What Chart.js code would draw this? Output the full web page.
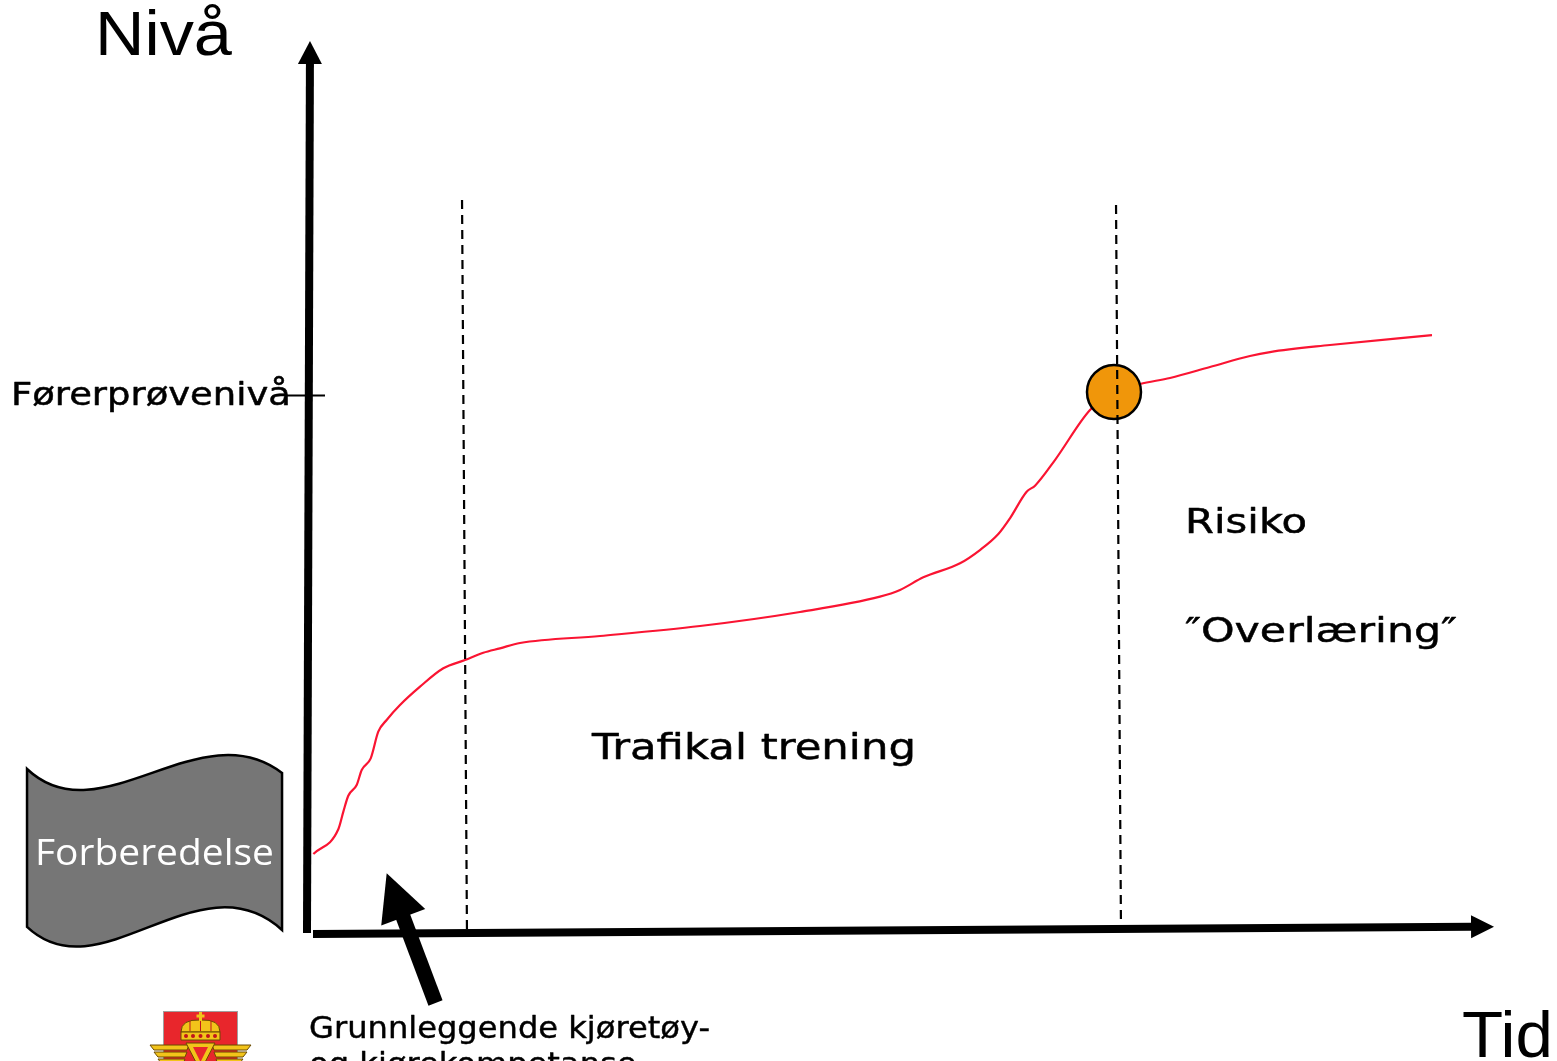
<!DOCTYPE html>
<html>
<head>
<meta charset="utf-8">
<script src="https://cdn.jsdelivr.net/npm/chart.js@4.4.0/dist/chart.umd.min.js"></script>
<style>
  html, body { margin: 0; padding: 0; background: #fff; overflow: hidden; }
  #wrap { position: relative; width: 1557px; height: 1061px; }
</style>
</head>
<body>
<div id="wrap"><canvas id="c"></canvas></div>
<script>
// ── Data (x = tid, y = nivå; arbitrary units, origin at the axes) ─────────
const curveX = [0.28, 2.36, 2.78, 3.19, 3.89, 4.31, 5.06, 5.69, 6.39, 7.5, 9.17, 11.11, 12.92, 14.44,
                15.83, 17.5, 24.17, 32.5, 40.83, 47.5, 49.17, 51.11, 54.17, 55.83, 57.36, 58.33, 59.72,
                60.42, 62.08, 65.0, 67.0, 69.17, 71.67, 75.0, 78.33, 80.0, 85.0, 93.5];
const curveY = [8.67, 11.41, 13.37, 15.14, 16.33, 18.0, 19.3, 22.26, 23.56, 25.22, 27.26, 29.3, 30.22, 31.03,
                31.52, 32.11, 32.89, 34.0, 35.56, 37.26, 38.0, 39.41, 40.97, 42.44, 44.22, 45.97, 48.92,
                49.59, 52.44, 58.0, 60.0, 60.89, 61.56, 62.78, 64.0, 64.44, 65.22, 66.33];

const milestoneX = [67.0];
const milestoneY = [60.0];

const phase1X = [12.67, 13.08];
const phase1Y = [81.33, 0.22];
const phase2X = [67.17, 67.58];
const phase2Y = [80.78, 0.78];

const yAxisX = [-0.25, 0.0];
const yAxisY = [-0.11, 99.0];
const xAxisX = [0.25, 98.67];
const xAxisY = [-0.22, 0.59];

const yTicks      = [59.6];
const yTickLabels = ['Førerprøvenivå'];

const pointerX = [10.46, 6.39];
const pointerY = [-7.89, 6.52];

// wavy "Forberedelse" banner: cubic edges (start, cp1, cp2, end)
const bannerTopX = [-23.58, -17.5, -9.17, -2.33];
const bannerTopY = [18.11, 10.44, 24.67, 17.67];
const bannerBotX = [-23.58, -17.5, -9.17, -2.33];
const bannerBotY = [0.56, -7.11, 8.56, 0.22];

// ── Styles ────────────────────────────────────────────────────────────────
const C = {
  curve:  '#fa1432',
  orange: '#f0960a',
  ink:    '#000000',
  banner: '#767676',
  logoRed:'#e8262c',
  logoYel:'#f2c41a',
  logoInk:'#6b4a00',
};
const VERDANA = "'DejaVu Sans', Verdana, sans-serif";
const ARIAL   = "'Liberation Sans', Arial, sans-serif";

const LABELS = [
  { text: 'Nivå',             x: -17.92, y: 97.44,  size: 63, family: ARIAL,   width: 137 },
  { text: 'Tid',              x: 96.0,   y: -13.89, size: 65, family: ARIAL,   width: 91 },
  { text: yTickLabels[0],     x: -24.92, y: 58.56,  size: 32, family: VERDANA, width: 280, bold: 0.5 },
  { text: 'Trafikal trening', x: 23.5,   y: 19.22,  size: 35, family: VERDANA, width: 324, bold: 0.5 },
  { text: 'Risiko',           x: 72.92,  y: 44.33,  size: 33, family: VERDANA, width: 122, bold: 0.5 },
  { text: '″Overlæring″',     x: 72.92,  y: 32.22,  size: 34, family: VERDANA, width: 272, bold: 0.5 },
  { text: 'Forberedelse',     x: -22.92, y: 7.44,   size: 37, family: "'Open Sans', sans-serif", width: 239, color: '#ffffff' },
  { lines: ['Grunnleggende kjøretøy-', 'og kjørekompetanse'], x: -0.08, y: -11.78, size: 30,
    family: VERDANA, width: 401, lineHeight: 36, bold: 0.4 },
];

// ── Helpers ───────────────────────────────────────────────────────────────
const pts = (xs, ys) => xs.map((x, i) => ({ x, y: ys[i] }));

function drawArrow(ctx, x0, y0, x1, y1, shaft, headLen, headW) {
  const dx = x1 - x0, dy = y1 - y0, L = Math.hypot(dx, dy);
  const ux = dx / L, uy = dy / L, nx = -uy, ny = ux;
  const bx = x1 - ux * headLen, by = y1 - uy * headLen;
  ctx.beginPath();
  ctx.moveTo(x0, y0);
  ctx.lineTo(bx + ux, by + uy);
  ctx.lineWidth = shaft;
  ctx.lineCap = 'butt';
  ctx.stroke();
  ctx.beginPath();
  ctx.moveTo(x1, y1);
  ctx.lineTo(bx + nx * headW / 2, by + ny * headW / 2);
  ctx.lineTo(bx - nx * headW / 2, by - ny * headW / 2);
  ctx.closePath();
  ctx.fill();
}

function drawLabel(ctx, X, Y, lbl) {
  const lines = lbl.lines || [lbl.text];
  ctx.save();
  ctx.font = `${lbl.size}px ${lbl.family}`;
  const sx = lbl.width ? lbl.width / ctx.measureText(lines[0]).width : 1;
  ctx.translate(X.getPixelForValue(lbl.x), Y.getPixelForValue(lbl.y));
  ctx.scale(sx, 1);
  ctx.fillStyle = lbl.color || C.ink;
  ctx.strokeStyle = lbl.color || C.ink;
  ctx.lineWidth = lbl.bold || 0;
  ctx.lineJoin = 'round';
  ctx.textBaseline = 'alphabetic';
  lines.forEach((t, i) => {
    const ty = i * (lbl.lineHeight || 0);
    ctx.fillText(t, 0, ty);
    if (lbl.bold) ctx.strokeText(t, 0, ty);
  });
  ctx.restore();
}

// Statens vegvesen badge, local pixel drawing anchored at a data point
function drawLogo(ctx, ox, oy) {
  ctx.save();
  ctx.translate(ox, oy);
  ctx.fillStyle = C.logoRed;
  ctx.fillRect(0, 0, 75, 60);
  ctx.strokeStyle = '#a0a0a0';
  ctx.lineWidth = 1;
  ctx.strokeRect(0.5, 0.5, 74, 60);
  // crown
  ctx.fillStyle = C.logoYel;
  ctx.strokeStyle = C.logoInk;
  ctx.lineWidth = 1;
  ctx.beginPath();
  ctx.moveTo(18, 21);
  ctx.quadraticCurveTo(18, 8, 37.5, 9);
  ctx.quadraticCurveTo(57, 8, 57, 21);
  ctx.closePath();
  ctx.fill(); ctx.stroke();
  ctx.beginPath();
  ctx.rect(18, 21, 39, 8);
  ctx.fill(); ctx.stroke();
  ctx.fillRect(36, 1, 3, 9);
  ctx.fillRect(33.5, 3.5, 8, 3);
  ctx.fillStyle = '#c0141c';
  [23, 30, 37.5, 45, 52].forEach(cx => { ctx.beginPath(); ctx.arc(cx, 25, 2, 0, Math.PI * 2); ctx.fill(); });
  ctx.strokeStyle = '#c0141c';
  [27, 37.5, 48].forEach(cx => { ctx.beginPath(); ctx.moveTo(cx, 10); ctx.lineTo(cx, 20); ctx.stroke(); });
  // wings
  ctx.fillStyle = C.logoYel;
  ctx.strokeStyle = C.logoInk;
  [[-13, 34], [-9, 41], [-5, 48]].forEach(([x0, y0], i) => {
    const w = 5;
    ctx.beginPath();
    ctx.moveTo(x0, y0); ctx.lineTo(26 - i * 2, y0); ctx.lineTo(24 - i * 2, y0 + w); ctx.lineTo(x0 + 4, y0 + w);
    ctx.closePath(); ctx.fill(); ctx.stroke();
    ctx.beginPath();
    ctx.moveTo(75 - x0, y0); ctx.lineTo(49 + i * 2, y0); ctx.lineTo(51 + i * 2, y0 + w); ctx.lineTo(71 - x0, y0 + w);
    ctx.closePath(); ctx.fill(); ctx.stroke();
  });
  ctx.beginPath();
  ctx.moveTo(23, 32); ctx.lineTo(52, 32); ctx.lineTo(37.5, 60); ctx.closePath();
  ctx.fill(); ctx.stroke();
  ctx.fillStyle = C.logoRed;
  ctx.beginPath();
  ctx.moveTo(30, 36); ctx.lineTo(45, 36); ctx.lineTo(37.5, 51); ctx.closePath();
  ctx.fill();
  ctx.restore();
}

// ── Plugin: banner, axes, arrows, labels ──────────────────────────────────
const diagramPlugin = {
  id: 'diagram',
  beforeDatasetsDraw(chart) {
    const { ctx, scales: { x: X, y: Y } } = chart;
    const P = (xs, ys, i) => [X.getPixelForValue(xs[i]), Y.getPixelForValue(ys[i])];
    ctx.save();
    ctx.beginPath();
    ctx.moveTo(...P(bannerTopX, bannerTopY, 0));
    ctx.bezierCurveTo(...P(bannerTopX, bannerTopY, 1), ...P(bannerTopX, bannerTopY, 2), ...P(bannerTopX, bannerTopY, 3));
    ctx.lineTo(...P(bannerBotX, bannerBotY, 3));
    ctx.bezierCurveTo(...P(bannerBotX, bannerBotY, 2), ...P(bannerBotX, bannerBotY, 1), ...P(bannerBotX, bannerBotY, 0));
    ctx.closePath();
    ctx.fillStyle = C.banner;
    ctx.fill();
    ctx.lineWidth = 2.5;
    ctx.strokeStyle = C.ink;
    ctx.stroke();
    drawLogo(ctx, X.getPixelForValue(-12.25), Y.getPixelForValue(-8.78));
    ctx.restore();
  },
  afterDatasetsDraw(chart) {
    const { ctx, scales: { x: X, y: Y } } = chart;
    ctx.save();
    ctx.strokeStyle = C.ink;
    ctx.fillStyle = C.ink;
    const px = v => X.getPixelForValue(v), py = v => Y.getPixelForValue(v);

    drawArrow(ctx, px(yAxisX[0]), py(yAxisY[0]), px(yAxisX[1]), py(yAxisY[1]), 8, 23, 24);
    drawArrow(ctx, px(xAxisX[0]), py(xAxisY[0]), px(xAxisX[1]), py(xAxisY[1]), 8, 23, 23);
    drawArrow(ctx, px(pointerX[0]), py(pointerY[0]), px(pointerX[1]), py(pointerY[1]), 15, 47, 47);

    // y tick at the test level
    yTicks.forEach(t => {
      ctx.beginPath();
      ctx.moveTo(px(-1.92), py(t));
      ctx.lineTo(px(1.25), py(t));
      ctx.lineWidth = 2;
      ctx.stroke();
    });

    LABELS.forEach(l => drawLabel(ctx, X, Y, l));
    ctx.restore();
  },
};

// ── Chart ─────────────────────────────────────────────────────────────────
new Chart(document.getElementById('c'), {
  type: 'scatter',
  data: {
    datasets: [
      { label: 'Fase 1', data: pts(phase1X, phase1Y), showLine: true, borderColor: C.ink,
        borderWidth: 2.2, borderDash: [9, 6], pointRadius: 0, order: 0 },
      { label: 'Fase 2', data: pts(phase2X, phase2Y), showLine: true, borderColor: C.ink,
        borderWidth: 2.2, borderDash: [9, 6], pointRadius: 0, order: 0 },
      { label: 'Førerprøve', data: pts(milestoneX, milestoneY), pointRadius: 27,
        backgroundColor: C.orange, borderColor: C.ink, borderWidth: 2.5, order: 1 },
      { label: 'Nivå', data: pts(curveX, curveY), showLine: true, borderColor: C.curve,
        borderWidth: 2.2, pointRadius: 0, cubicInterpolationMode: 'monotone', order: 2 },
    ],
  },
  options: {
    responsive: true,
    maintainAspectRatio: false,
    animation: false,
    events: [],
    layout: { padding: 0, autoPadding: false },
    plugins: { legend: { display: false }, tooltip: { enabled: false } },
    scales: {
      x: { type: 'linear', min: -25.833, max: 103.917, display: false },
      y: { type: 'linear', min: -14.333, max: 103.556, display: false },
    },
  },
  plugins: [diagramPlugin],
});
</script>
</body>
</html>
